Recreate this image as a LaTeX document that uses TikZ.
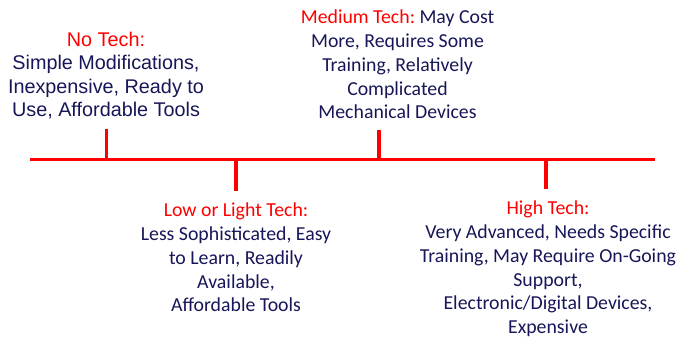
\documentclass[tikz,border=0pt]{standalone}
\usepackage{fontspec}
\setmainfont{Carlito}
\newfontfamily\arialf{Liberation Sans}
\definecolor{navy}{RGB}{22,22,88}
\definecolor{tred}{RGB}{255,0,0}
\frenchspacing
\begin{document}
\begin{tikzpicture}[x=1pt,y=-1pt,
  tline/.style={draw=tred,line width=3.6pt},
  blk/.style={align=center,inner sep=0pt,text=navy,font=\frenchspacing\fontsize{19.8}{23.8}\selectfont},
  ablk/.style={align=center,inner sep=0pt,text=navy,font=\frenchspacing\arialf\fontsize{19.8}{23.6}\selectfont}]
\useasboundingbox (0,0) rectangle (679,339);
\coordinate (L) at (30,159.5);
\coordinate (R) at (655,159.5);
\coordinate (a0) at (106.5,159.5); \coordinate (a1) at (106.5,129);
\coordinate (b0) at (236,159.5); \coordinate (b1) at (236,191);
\coordinate (c0) at (379,159.5); \coordinate (c1) at (379,130);
\coordinate (d0) at (546,159.5); \coordinate (d1) at (546,189);
\draw[tline] (L) -- (R);
\draw[tline] (a0) -- (a1);
\draw[tline] (b0) -- (b1);
\draw[tline] (c0) -- (c1);
\draw[tline] (d0) -- (d1);
\node[ablk] (notech) at (106,75.5)
  {\textcolor{tred}{No Tech:}\\Simple Modifications,\\Inexpensive, Ready to\\Use, Affordable Tools};
\node[blk] (medtech) at (397.5,64.5)
  {\textcolor{tred}{Medium Tech:} May Cost\\More, Requires Some\\Training, Relatively\\Complicated\\Mechanical Devices};
\node[blk] (lowtech) at (236,257.5)
  {\textcolor{tred}{Low or Light Tech:}\\Less Sophisticated, Easy\\to Learn, Readily\\Available,\\Affordable Tools};
\node[blk] (hightech) at (548,269)
  {\textcolor{tred}{High Tech:}\\Very Advanced, Needs Specific\\Training, May Require On-Going\\Support,\\Electronic/Digital Devices,\\Expensive};
\end{tikzpicture}
\end{document}
